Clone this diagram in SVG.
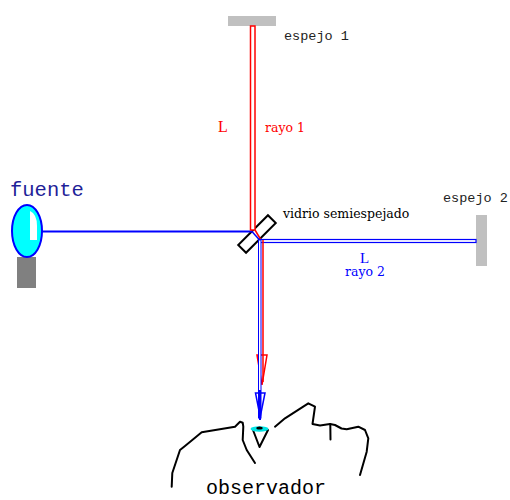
<svg xmlns="http://www.w3.org/2000/svg" width="510" height="500" viewBox="0 0 510 500">
  <style>
    .mono { font-family: "Liberation Mono", "Courier New", monospace; }
    .serif { font-family: "DejaVu Serif", "Liberation Serif", serif; font-size: 12.5px; }
    .mirror { fill: #c0c0c0; }
    .face { fill: none; stroke: #000; stroke-width: 2; stroke-linejoin: round; stroke-linecap: round; }
  </style>

  <!-- mirrors -->
  <g id="espejo1">
    <rect class="mirror" x="228" y="16" width="48" height="10"/>
    <text class="mono" x="284" y="40" font-size="13.5" fill="#222">espejo 1</text>
  </g>
  <g id="espejo2">
    <rect class="mirror" x="476" y="215" width="11" height="51"/>
    <text class="mono" x="443" y="202" font-size="13.5" fill="#222">espejo 2</text>
  </g>

  <!-- light source -->
  <g id="fuente">
    <rect x="17" y="257" width="19" height="31" fill="#808080"/>
    <ellipse cx="27" cy="231" rx="15" ry="26" fill="#00ffff" stroke="#0000ff" stroke-width="2"/>
    <path d="M30,211 Q37,214 37,226 L37,240 L30,240 Z" fill="#fff"/>
    <text class="mono" x="10" y="196" font-size="20.5" fill="#1f1f99">fuente</text>
  </g>

  <!-- beam splitter -->
  <g id="vidrio">
    <rect x="-21" y="-5.5" width="42" height="11" transform="translate(257,234) rotate(-45)" fill="#fff" stroke="#000" stroke-width="2"/>
    <text class="serif" x="283" y="218" fill="#000">vidrio semiespejado</text>
  </g>

  <!-- rays -->
  <g id="rayos">
    <!-- incoming beam -->
    <line x1="42" y1="231.5" x2="252" y2="231.5" stroke="#0000ff" stroke-width="2"/>
    <!-- ray 1: splitter to mirror 1 and back -->
    <rect x="250.5" y="26" width="4.5" height="204" fill="#fff" stroke="#ff0000" stroke-width="1.5"/>
    <line x1="255" y1="230" x2="261" y2="240" stroke="#ff0000" stroke-width="1.5"/>
    <!-- ray 2: splitter to mirror 2 and back -->
    <line x1="252" y1="231.5" x2="259.5" y2="240" stroke="#0000ff" stroke-width="1.5"/>
    <rect x="260" y="239.5" width="216" height="3" fill="#fff" stroke="#0000ff" stroke-width="1.2"/>
    <!-- recombined beams towards observer -->
    <line x1="263" y1="240" x2="263" y2="382" stroke="#ff0000" stroke-width="1.5"/>
    <polygon points="257,355 267,355 262,385" fill="none" stroke="#ff0000" stroke-width="1.5"/>
    <rect x="258.5" y="240" width="2.5" height="178" fill="#fff" stroke="#0000ff" stroke-width="1"/>
    <line x1="260" y1="390" x2="260" y2="420" stroke="#0000ff" stroke-width="2"/>
    <polygon points="255.5,393 265,393 260.2,417" fill="none" stroke="#0000ff" stroke-width="1.5"/>
    <!-- labels -->
    <text x="218" y="132" font-family="Liberation Serif, serif" font-size="16" fill="#ff0000">L</text>
    <text class="serif" x="265" y="132" fill="#ff0000">rayo 1</text>
    <text x="360" y="262.5" font-family="Liberation Serif, serif" font-size="15" fill="#0000ff">L</text>
    <text class="serif" x="345" y="276" fill="#0000ff">rayo 2</text>
  </g>

  <!-- observer -->
  <g id="observador">
    <polyline class="face" points="171.7,486.7 172.3,473 180,450 185,446 201.7,432.3 235,426.7 240,421.7 242.7,422.7 243.3,426.7 242.7,440 246.7,450 255,463"/>
    <polyline class="face" points="275,426.7 285,418.3 308.3,403.3 315,406.7 312.5,424 320,425.5 330,424 335,425 341.5,428.5 346.7,429.3 358.3,426.7 365,430 368.3,438.3 366.7,451.7 360,475"/>
    <line class="face" x1="330.3" y1="424" x2="330.5" y2="439.5"/>
    <polygon class="face" points="253,430 268,430 259.5,447"/>
    <ellipse cx="259.5" cy="429" rx="9" ry="2.7" fill="#00e5e5"/>
    <ellipse cx="259.5" cy="428" rx="3.2" ry="1.6" fill="#000"/>
    <text class="mono" x="206" y="493.5" font-size="20" fill="#000">observador</text>
  </g>
</svg>
